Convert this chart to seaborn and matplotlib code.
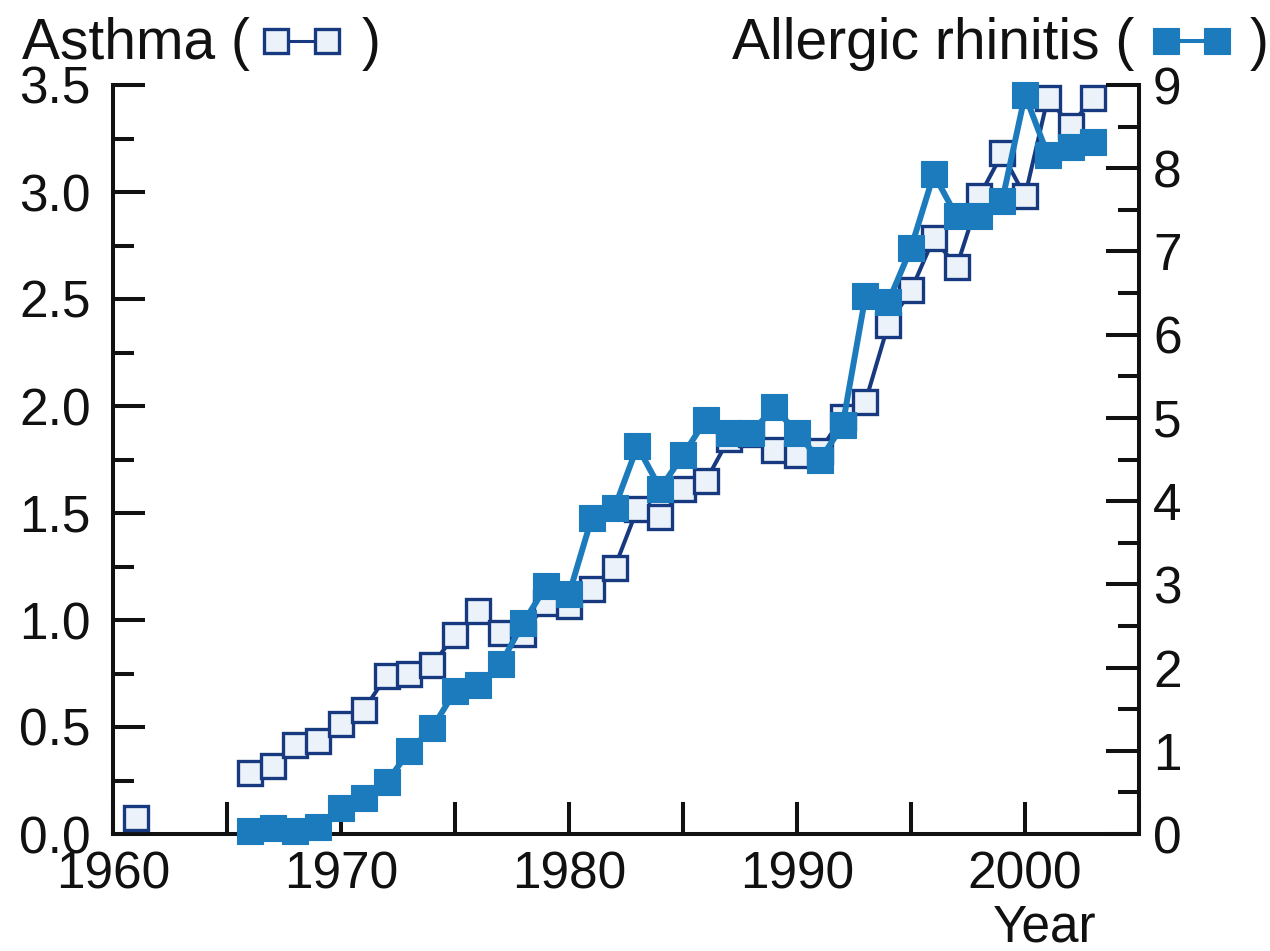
import numpy as np
import pandas as pd
import matplotlib
matplotlib.use("Agg")
import matplotlib.pyplot as plt
from matplotlib.lines import Line2D
from matplotlib.ticker import MultipleLocator, FormatStrFormatter
import seaborn as sns

# ---- data -------------------------------------------------------------
asthma_years = [1961] + list(range(1966, 2004))
asthma_values = [0.075,
                 0.285, 0.32, 0.415, 0.435, 0.515, 0.58, 0.74, 0.75, 0.79, 0.93,
                 1.04, 0.94, 0.935, 1.08, 1.065, 1.145, 1.245, 1.52, 1.48, 1.61,
                 1.65, 1.845, 1.87, 1.795, 1.77, 1.79, 1.95, 2.02, 2.38, 2.54,
                 2.785, 2.65, 2.98, 3.18, 2.98, 3.44, 3.31, 3.44]

rhinitis_years = list(range(1966, 2004))
rhinitis_values = [0.04, 0.07, 0.04, 0.08, 0.31, 0.43, 0.62, 1.00, 1.27, 1.72,
                   1.79, 2.04, 2.54, 2.98, 2.88, 3.80, 3.92, 4.66, 4.15, 4.55,
                   4.98, 4.82, 4.82, 5.13, 4.82, 4.49, 4.91, 6.46, 6.39, 7.04,
                   7.93, 7.42, 7.43, 7.61, 8.88, 8.16, 8.25, 8.31]

x_tick_labels = ["1960", "1970", "1980", "1990", "2000"]
asthma_label = "Asthma"
rhinitis_label = "Allergic rhinitis"
x_label = "Year"

# ---- style ------------------------------------------------------------
NAVY = "#17397f"
PALE = "#ebf2fa"
BLUE = "#1c7bbd"
INK = "#111111"

sns.set_theme(style="ticks")
plt.rcParams["font.family"] = ["Liberation Sans", "DejaVu Sans"]
plt.rcParams["text.color"] = INK
plt.rcParams["axes.labelcolor"] = INK
plt.rcParams["xtick.color"] = INK
plt.rcParams["ytick.color"] = INK

TICK_FS = 37
HEAD_FS = 41
SPINE_W = 2.9

W, H = 1270, 951
fig = plt.figure(figsize=(W / 100, H / 100), dpi=100)
ax = fig.add_axes([113 / W, 1 - 834 / H, 1026 / W, 749 / H])
ax2 = ax.twinx()

# continuous runs of years are joined; gaps in the record break the line
asthma_df = pd.DataFrame({"year": asthma_years, "value": asthma_values})
asthma_df["run"] = (asthma_df["year"].diff() > 1).cumsum()
rhinitis_df = pd.DataFrame({"year": rhinitis_years, "value": rhinitis_values})

sns.lineplot(data=asthma_df, x="year", y="value", units="run", estimator=None,
             color=NAVY, linewidth=2.9, marker="s", markersize=17,
             markerfacecolor=PALE, markeredgecolor=NAVY, markeredgewidth=2.4,
             clip_on=False, legend=False, ax=ax, zorder=3)

sns.lineplot(data=rhinitis_df, x="year", y="value", estimator=None,
             color=BLUE, linewidth=4.3, marker="s", markersize=19,
             markerfacecolor=BLUE, markeredgecolor=BLUE, markeredgewidth=0.8,
             clip_on=False, legend=False, ax=ax2, zorder=3)

# ---- axes -------------------------------------------------------------
ax.set_xlim(1960, 2005)
ax.set_ylim(0, 3.5)
ax2.set_ylim(0, 9)

ax.set_xticks([int(s) for s in x_tick_labels], labels=x_tick_labels)
ax.xaxis.set_minor_locator(MultipleLocator(5))
ax.yaxis.set_major_locator(MultipleLocator(0.5))
ax.yaxis.set_minor_locator(MultipleLocator(0.25))
ax.yaxis.set_major_formatter(FormatStrFormatter("%.1f"))
ax2.yaxis.set_major_locator(MultipleLocator(1))
ax2.yaxis.set_minor_locator(MultipleLocator(0.5))

for a in (ax, ax2):
    a.set_facecolor("none")
    for s in a.spines.values():
        s.set_linewidth(SPINE_W)
        s.set_color(INK)
ax.spines["top"].set_visible(False)
ax.spines["right"].set_visible(False)
for side in ("top", "left", "bottom"):
    ax2.spines[side].set_visible(False)

ax.tick_params(axis="x", which="both", direction="in", length=23,
               width=SPINE_W, labelsize=TICK_FS, pad=12)
ax.tick_params(axis="y", which="major", direction="in", length=23,
               width=SPINE_W, labelsize=TICK_FS, pad=16)
ax.tick_params(axis="y", which="minor", direction="in", length=15,
               width=SPINE_W)
ax2.tick_params(axis="y", which="major", direction="in", length=24,
                width=SPINE_W, labelsize=TICK_FS, pad=10)
ax2.tick_params(axis="y", which="minor", direction="in", length=15,
                width=SPINE_W)

ax.set_ylabel("")
ax2.set_ylabel("")
ax.set_xlabel(x_label, fontsize=TICK_FS, ha="right")
ax.xaxis.set_label_coords((1096 - 113) / 1026, (834 - 904) / 749)

# ---- series keys in the headings -------------------------------------
def fx(px):
    return px / W


def fy(py):
    return 1 - py / H


fig.text(fx(22), fy(59), f"{asthma_label} (", fontsize=HEAD_FS,
         va="baseline", ha="left")
fig.text(fx(362), fy(59), ")", fontsize=HEAD_FS, va="baseline", ha="left")
fig.add_artist(Line2D([fx(276), fx(327)], [fy(41), fy(41)],
                      transform=fig.transFigure, color=NAVY, linewidth=2.2,
                      marker="s", markersize=17.5, markerfacecolor=PALE,
                      markeredgecolor=NAVY, markeredgewidth=2.4))

fig.text(fx(732), fy(59), f"{rhinitis_label} (", fontsize=HEAD_FS,
         va="baseline", ha="left")
fig.text(fx(1250), fy(59), ")", fontsize=HEAD_FS, va="baseline", ha="left")
fig.add_artist(Line2D([fx(1166), fx(1217)], [fy(41), fy(41)],
                      transform=fig.transFigure, color=BLUE, linewidth=2.9,
                      marker="s", markersize=19, markerfacecolor=BLUE,
                      markeredgecolor=BLUE, markeredgewidth=0.8))

fig.savefig("out.png", dpi=100, facecolor="white")
